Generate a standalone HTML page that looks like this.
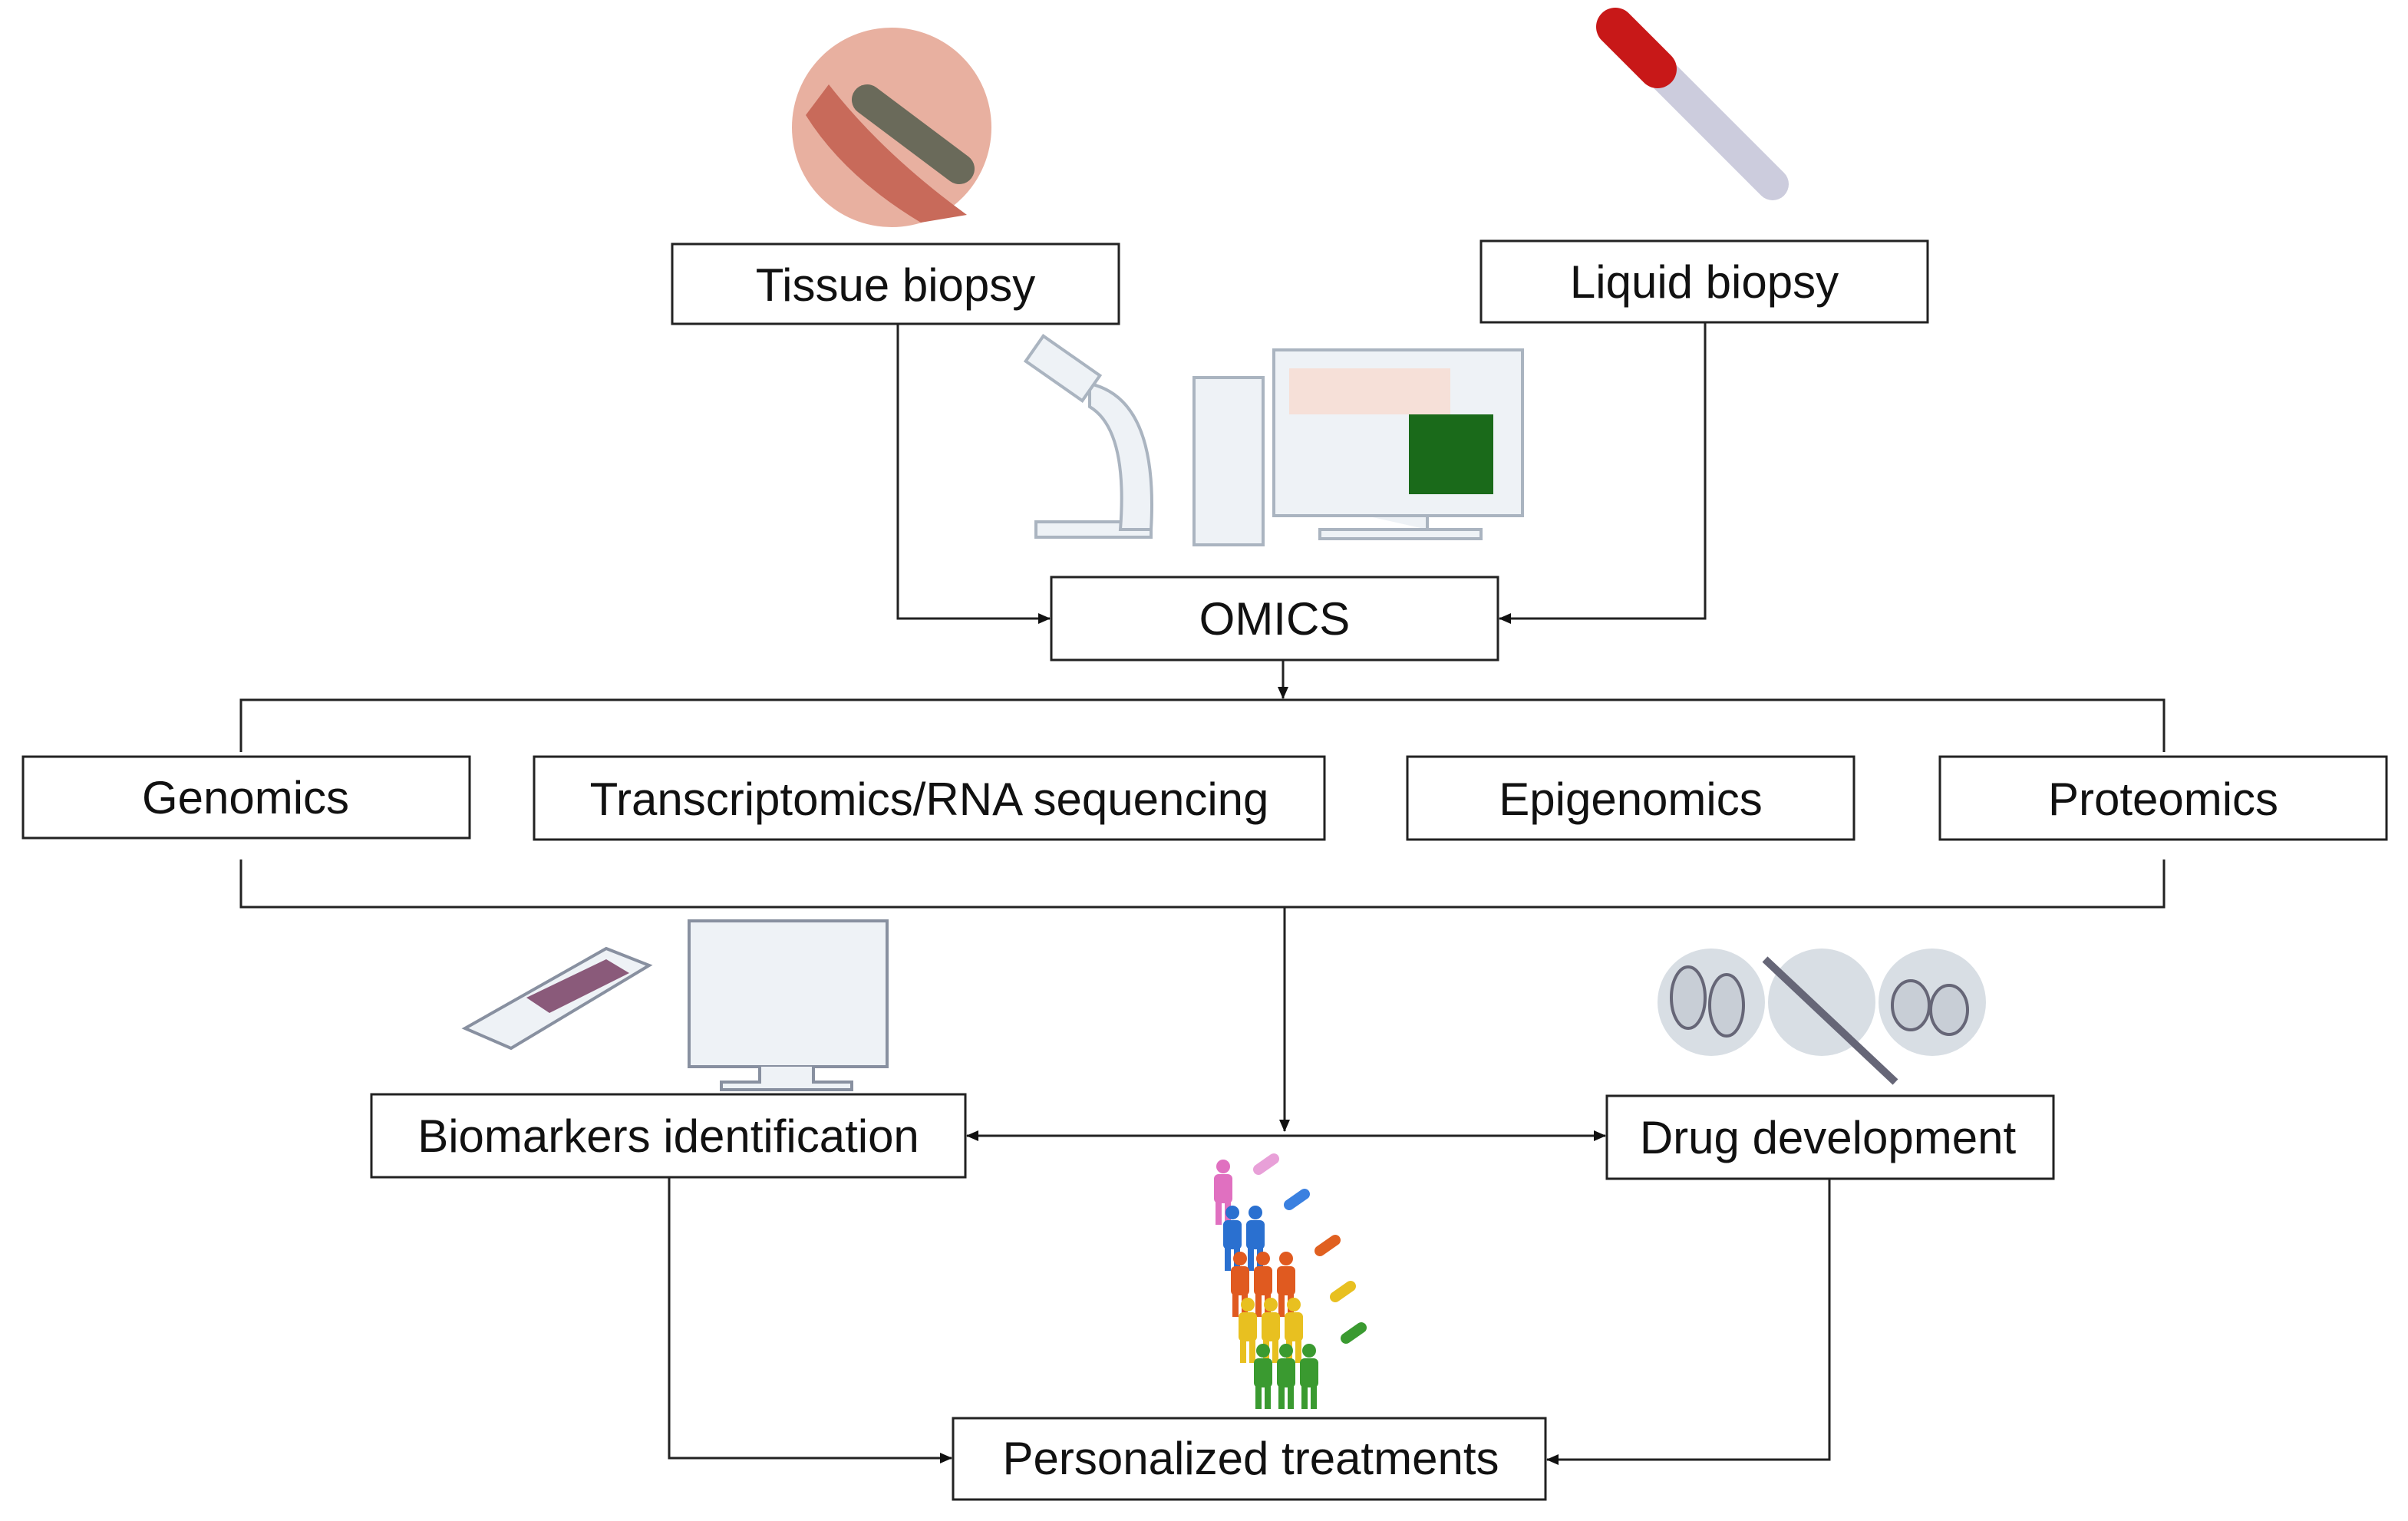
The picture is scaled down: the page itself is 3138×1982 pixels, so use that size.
<!DOCTYPE html>
<html><head><meta charset="utf-8"><style>
html,body{margin:0;padding:0;background:#fff}
svg{display:block}
text{font-family:"Liberation Sans",sans-serif;font-size:60px;fill:#111}
</style></head><body>
<svg width="3138" height="1982" viewBox="0 0 3138 1982" xmlns="http://www.w3.org/2000/svg">
<defs>
<marker id="b" markerWidth="16" markerHeight="16" refX="15" refY="8" orient="auto" markerUnits="userSpaceOnUse" viewBox="0 0 16 16"><path d="M0,1 L16,8 L0,15z" fill="#111"/></marker>
<g id="p"><circle cx="0" cy="-30" r="9"/><rect x="-12" y="-20" width="24" height="38" rx="6"/><rect x="-10" y="16" width="8" height="30"/><rect x="2" y="16" width="8" height="30"/></g>
</defs>
<g fill="none" stroke="#222" stroke-width="3">
<path d="M1170 422 V806 H1368" marker-end="url(#b)"/>
<path d="M2222 420 V806 H1954" marker-end="url(#b)"/>
<path d="M1672 860 V910" marker-end="url(#b)"/>
<path d="M314 980 V912 H2820 V980"/>
<path d="M314 1120 V1182 H2820 V1120"/>
<path d="M1674 1182 V1474" marker-end="url(#b)"/>
<path d="M1676 1480 H2092" marker-end="url(#b)"/>
<path d="M1676 1480 H1260" marker-end="url(#b)"/>
<path d="M872 1534 V1900 H1240" marker-end="url(#b)"/>
<path d="M2384 1536 V1902 H2016" marker-end="url(#b)"/>
</g>
<g fill="#fff" stroke="#222" stroke-width="3">
<rect x="876" y="318" width="582" height="104"/>
<rect x="1930" y="314" width="582" height="106"/>
<rect x="1370" y="752" width="582" height="108"/>
<rect x="30" y="986" width="582" height="106"/>
<rect x="696" y="986" width="1030" height="108"/>
<rect x="1834" y="986" width="582" height="108"/>
<rect x="2528" y="986" width="582" height="108"/>
<rect x="484" y="1426" width="774" height="108"/>
<rect x="2094" y="1428" width="582" height="108"/>
<rect x="1242" y="1848" width="772" height="106"/>
</g>
<g text-anchor="middle">
<text x="1167" y="392">Tissue biopsy</text>
<text x="2221" y="388">Liquid biopsy</text>
<text x="1661" y="827">OMICS</text>
<text x="320" y="1060">Genomics</text>
<text x="1211" y="1062">Transcriptomics/RNA sequencing</text>
<text x="2125" y="1062">Epigenomics</text>
<text x="2819" y="1062">Proteomics</text>
<text x="871" y="1501">Biomarkers identification</text>
<text x="2382" y="1503">Drug development</text>
<text x="1630" y="1921">Personalized treatments</text>
</g>
<!-- tissue icon -->
<circle cx="1162" cy="166" r="130" fill="#e8b0a0"/>
<path d="M1080 110 Q1150 200 1260 280 L1200 290 Q1100 230 1050 150z" fill="#c86a5a"/>
<path d="M1130 130 L1250 220" stroke="#6a6a5a" stroke-width="40" stroke-linecap="round"/>
<!-- tube -->
<path d="M2110 40 L2310 240" stroke="#ccd" stroke-width="42" stroke-linecap="round"/>
<path d="M2105 35 L2160 90" stroke="#c81818" stroke-width="50" stroke-linecap="round"/>
<!-- microscope/computer -->
<g fill="#eef2f6" stroke="#aab4c0" stroke-width="4">
<path d="M1350 680 H1500 V700 H1350z"/>
<path d="M1420 500 Q1510 520 1500 690 H1460 Q1470 560 1420 530z"/>
<rect x="1340" y="460" width="90" height="40" transform="rotate(35 1385 480)"/>
<rect x="1556" y="492" width="90" height="218"/>
<rect x="1660" y="456" width="324" height="216"/>
<path d="M1780 672 H1860 V690 H1720 V702 H1930 V690 H1860"/>
</g>
<rect x="1680" y="480" width="210" height="60" fill="#f6e0d8"/>
<rect x="1836" y="540" width="110" height="104" fill="#1a6a1a"/>
<!-- slide & monitor -->
<g fill="#eef2f6" stroke="#8890a0" stroke-width="4">
<path d="M606 1340 L790 1236 L846 1258 L666 1366z"/>
<rect x="898" y="1200" width="258" height="190"/>
<path d="M990 1390 V1410 H940 V1420 H1110 V1410 H1060 V1390"/>
</g>
<path d="M686 1300 L790 1250 L820 1268 L716 1320z" fill="#8a5a7a"/>
<!-- pills -->
<g fill="#d8dee4"><circle cx="2230" cy="1306" r="70"/><circle cx="2374" cy="1306" r="70"/><circle cx="2518" cy="1306" r="70"/></g>
<g fill="#c8ced6" stroke="#667" stroke-width="4">
<ellipse cx="2200" cy="1300" rx="22" ry="40"/><ellipse cx="2250" cy="1310" rx="22" ry="40"/>
<ellipse cx="2490" cy="1310" rx="24" ry="32"/><ellipse cx="2540" cy="1316" rx="24" ry="32"/>
</g>
<path d="M2300 1250 L2470 1410" stroke="#667" stroke-width="10"/>
<!-- people -->
<g fill="#e070c0"><use href="#p" x="1594" y="1550"/></g>
<g fill="#2a70d0"><use href="#p" x="1606" y="1610"/><use href="#p" x="1636" y="1610"/></g>
<g fill="#e05a20"><use href="#p" x="1616" y="1670"/><use href="#p" x="1646" y="1670"/><use href="#p" x="1676" y="1670"/></g>
<g fill="#e8c020"><use href="#p" x="1626" y="1730"/><use href="#p" x="1656" y="1730"/><use href="#p" x="1686" y="1730"/></g>
<g fill="#3a9a30"><use href="#p" x="1646" y="1790"/><use href="#p" x="1676" y="1790"/><use href="#p" x="1706" y="1790"/></g>
<g stroke="#888" stroke-width="14" stroke-linecap="round">
<path d="M1640 1524 L1660 1510" stroke="#e8a0d8"/><path d="M1680 1570 L1700 1556" stroke="#3a80e0"/>
<path d="M1720 1630 L1740 1616" stroke="#e06020"/><path d="M1740 1690 L1760 1676" stroke="#e8c020"/>
<path d="M1754 1744 L1774 1730" stroke="#3a9a30"/>
</g>
</svg>
</body></html>
